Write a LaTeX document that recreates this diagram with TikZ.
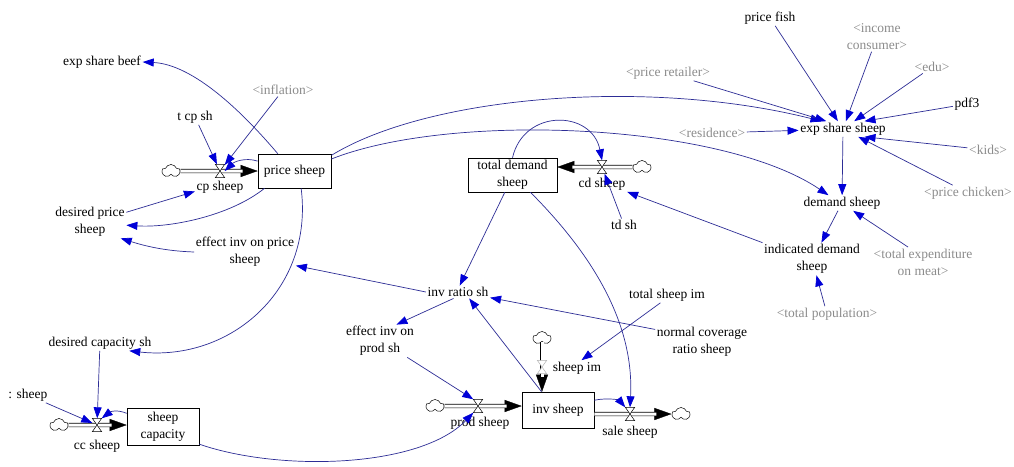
\documentclass[tikz,border=0pt]{standalone}
\usepackage{fontspec}
\setmainfont{Liberation Serif}
\usetikzlibrary{arrows.meta,shapes.symbols,calc}
\definecolor{linkline}{RGB}{45,45,150}
\definecolor{linkhead}{RGB}{0,0,215}
\definecolor{shadowtxt}{RGB}{140,140,140}

% hourglass valve drawn over a named valve node
\newcommand\drawvalve[2][black]{%
  \draw[draw=#1, fill=white, line width=0.5pt]
    (#2.north west) -- (#2.north east) -- (#2.south west) -- (#2.south east) -- cycle;}

\begin{document}
\begin{tikzpicture}[x=1pt, y=-1pt,
  font=\fontsize{13.5}{17}\selectfont,
  aux/.style={inner sep=1.5pt, align=center, text=black},
  shadow/.style={aux, text=shadowtxt},
  stock/.style={draw=black, line width=0.6pt, fill=white, align=center, inner sep=0pt},
  link/.style={draw=linkline, line width=0.7pt, -{Triangle[length=11pt,width=8pt,color=linkhead]}},
  pipe/.style={draw=black, line width=0.6pt, double=white, double distance=3pt},
  flowtip/.style={draw=black, line width=0.3pt, -{Triangle[length=17pt,width=12pt]}},
  valve/.style={minimum width=9pt, minimum height=13pt, inner sep=0pt},
  src/.style={cloud, cloud puffs=5, cloud puff arc=140, aspect=1.35, draw=black, fill=white,
              line width=0.5pt, minimum width=18pt, minimum height=13pt, inner sep=0pt}]

\fill[white] (0,0) rectangle (1014,466);
\useasboundingbox (0,0) rectangle (1014,466);

% ---------- price sector ----------
\node[aux] (expbeef) at (102,62) {exp share beef};
\node[shadow] (infl) at (283,90) {\textless inflation\textgreater};
\node[aux] (tcpsh) at (195,117) {t cp sh};
\node[src] (cpcloud) at (171,171) {};
\node[valve] (cpv) at (220,171) {};
\node[aux] (cplab) at (220,187) {cp sheep};
\node[stock, minimum width=73pt, minimum height=34pt] (price) at (294.5,171) {price sheep};
\node[aux] (despr) at (90,222) {desired price\\sheep};
\node[aux] (effpr) at (245,252) {effect inv on price\\sheep};

% ---------- capacity sector ----------
\node[aux] (descap) at (100,343) {desired capacity sh};
\node[aux, anchor=east] (tcc) at (49,395) {: sheep};
\node[src] (cccloud) at (59,425) {};
\node[valve] (ccv) at (97,425) {};
\node[aux] (cclab) at (97,446) {cc sheep};
\node[stock, minimum width=72pt, minimum height=37pt] (cap) at (163,426.5) {sheep\\capacity};

% ---------- demand and inventory ----------
\node[stock, minimum width=89pt, minimum height=34pt] (tdbox) at (512.5,175) {total demand\\sheep};
\node[valve] (cdv) at (602,167) {};
\node[src] (cdcloud) at (642,167) {};
\node[aux] (cdlab) at (602,184) {cd sheep};
\node[aux] (tdsh) at (624,225) {td sh};
\node[aux] (invratio) at (458,292) {inv ratio sh};
\node[aux] (effprod) at (380,341) {effect inv on\\prod sh};
\node[aux] (tsim) at (667,295) {total sheep im};
\node[aux] (ncr) at (702,342) {normal coverage\\ratio sheep};
\node[src] (imcloud) at (542,338) {};
\node[valve] (imv) at (542,367) {};
\node[aux] (imlab) at (577,368) {sheep im};
\node[stock, minimum width=72pt, minimum height=36pt] (inv) at (558,410) {inv sheep};
\node[src] (prodcloud) at (435,406) {};
\node[valve] (prodv) at (478,406) {};
\node[aux] (prodlab) at (480,423) {prod sheep};
\node[valve] (salev) at (630,414) {};
\node[src] (salecloud) at (681,414) {};
\node[aux] (salelab) at (630,432) {sale sheep};

% ---------- consumer sector ----------
\node[aux] (pfish) at (770,18) {price fish};
\node[shadow] (income) at (877,37) {\textless income\\consumer\textgreater};
\node[shadow] (edu) at (932,67) {\textless edu\textgreater};
\node[aux] (pdf) at (967,104) {pdf3};
\node[shadow] (pretail) at (668,73) {\textless price retailer\textgreater};
\node[shadow] (resid) at (712,133) {\textless residence\textgreater};
\node[aux] (ess) at (843,129) {exp share sheep};
\node[shadow] (kids) at (988,150) {\textless kids\textgreater};
\node[shadow] (pchick) at (968,193) {\textless price chicken\textgreater};
\node[aux] (dsheep) at (842,203) {demand sheep};
\node[aux] (ids) at (812,259) {indicated demand\\sheep};
\node[shadow] (texp) at (923,262) {\textless total expenditure\\on meat\textgreater};
\node[shadow] (tpop) at (827,314) {\textless total population\textgreater};

% ---------- flow pipes ----------
\draw[flowtip] (cpv) -- (price);
\draw[pipe, shorten >=15pt] (cpcloud) -- (price);
\draw[flowtip] (cdv) -- (cdv -| tdbox.east);
\draw[pipe, shorten >=15pt] (cdcloud) -- (cdv -| tdbox.east);
\draw[flowtip] (ccv) -- (ccv -| cap.west);
\draw[pipe, shorten >=15pt] (cccloud) -- (ccv -| cap.west);
\draw[flowtip] (prodv) -- (prodv -| inv.west);
\draw[pipe, shorten >=15pt] (prodcloud) -- (prodv -| inv.west);
\draw[flowtip] (imv) -- (imv |- inv.north);
\draw[pipe, shorten >=15pt] (imcloud) -- (imv |- inv.north);
\draw[flowtip] (salev) -- (salecloud);
\draw[pipe, shorten >=15pt] (salev -| inv.east) -- (salecloud);

\drawvalve{cpv}
\drawvalve{cdv}
\drawvalve{ccv}
\drawvalve{prodv}
\drawvalve[gray!60]{imv}
\drawvalve{salev}

% ---------- causal links ----------
\draw[link] (price.134) .. controls (228,95) and (185,64) .. (expbeef.east);
\draw[link] (infl) -- (cpv);
\draw[link] (tcpsh) -- (cpv);
\draw[link] (price.165) .. controls (245,157) and (234,162) .. (cpv.east);
\draw[link] (despr.15) -- (cplab.190);
\draw[link] (price.210) .. controls (230,216) and (170,228) .. (despr.-5);
\draw[link] (effpr.west) .. controls (165,251) and (145,246) .. (despr.-28);
\draw[link] (price.-69) .. controls (314,290) and (230,362) .. (descap.-15);
\draw[link] (invratio.west) -- (effpr.-15);
\draw[link] (descap) -- (ccv);
\draw[link] (tcc) -- (ccv);
\draw[link] (cap.160) .. controls (116,409) and (110,412) .. (ccv.north east);
\draw[link] (cap.-26) .. controls (280,472) and (420,468) .. (prodv.south west);
\draw[link] (price.23) .. controls (430,95) and (650,78) .. (ess.160);
\draw[link] (price.18) .. controls (450,112) and (720,122) .. (dsheep.150);
\draw[link] (tdbox.north) .. controls (524,108) and (592,110) .. (cdv.north);
\draw[link] (tdsh) -- (cdv);
\draw[link] (ids.north west) -- (cdlab.south east);
\draw[link] (tdbox.-114) -- (invratio.75);
\draw[link] (tdbox.-44) .. controls (600,262) and (634,330) .. (salev.north);
\draw[link] (invratio.-125) -- (effprod.45);
\draw[link] (ncr.165) -- (invratio.-10);
\draw[link] (inv.132) -- (invratio.-30);
\draw[link] (tsim.-130) -- (imlab.60);
\draw[link] (effprod.-31) -- (prodv.north west);
\draw[link] (inv.15) .. controls (610,397) and (620,401) .. (salev.north west);
\draw[link] (ess) -- (dsheep);
\draw[link] (pfish) -- (ess);
\draw[link] (income) -- (ess);
\draw[link] (edu) -- (ess);
\draw[link] (pdf) -- (ess.20);
\draw[link] (pretail) -- (ess.155);
\draw[link] (resid) -- (ess);
\draw[link] (kids) -- (ess.-20);
\draw[link] (pchick) -- (ess);
\draw[link] (dsheep) -- (ids.60);
\draw[link] (texp.135) -- (dsheep.-35);
\draw[link] (tpop) -- (ids);
\end{tikzpicture}
\end{document}
